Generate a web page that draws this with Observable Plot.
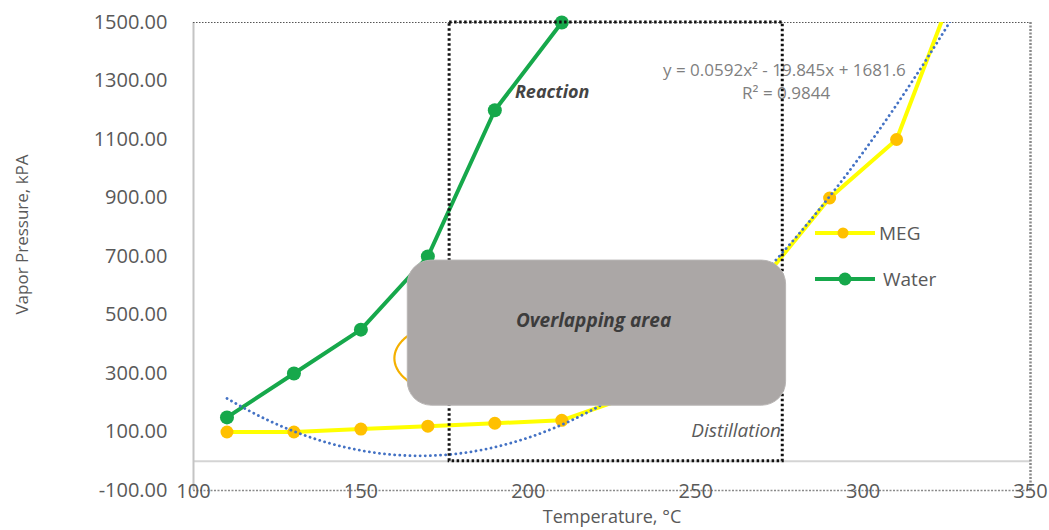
<!DOCTYPE html>
<html>
<head>
<meta charset="utf-8">
<script src="https://cdn.jsdelivr.net/npm/d3@7"></script>
<script src="https://cdn.jsdelivr.net/npm/@observablehq/plot@0.6"></script>
<style>
  html, body { margin: 0; padding: 0; background: #fff; }
  #wrap { position: relative; width: 1049px; height: 530px; font-family: 'Open Sans', sans-serif; }
  #legend { position: absolute; left: 812px; top: 218px; }
  .lg { position: absolute; white-space: nowrap; color: #595959; font-size: 19px; }
</style>
</head>
<body>
<div id="wrap"></div>
<script>
// ---- data ----
const megTemps = [110, 130, 150, 170, 190, 210, 230, 250, 270, 290, 310, 330];
const megPressure = [100, 100, 110, 120, 130, 140, 220, 400, 620, 900, 1100, 1700];
const waterTemps = [110, 130, 150, 170, 190, 210];
const waterPressure = [150, 300, 450, 700, 1200, 1500];
// polynomial trendline of MEG (as printed on the chart)
const trendA = 0.0592, trendB = -19.845, trendC = 1681.6;
const trendLabel = ["y = 0.0592x\u00B2 - 19.845x + 1681.6", "R\u00B2 = 0.9844"];
const xTicks = [100, 150, 200, 250, 300, 350];
const yTicks = [-100, 100, 300, 500, 700, 900, 1100, 1300, 1500];
// zones (temperature range, pressure range)
const regionTemps = [176.5, 276];      // dotted rectangle
const regionPress = [0, 1500];
const overlapTemps = [164, 277];        // grey rounded box
const overlapPress = [190, 686];
const zoneLabels = [
  {t: 196, p: 1262, text: "Reaction"},
  {t: 275.5, p: 105, text: "Distillation"}
];
const overlapLabel = {t: 219.5, p: 481, text: "Overlapping area"};
// orange highlight ellipse (mostly hidden under the grey box)
const ellipseCenter = [179, 352], ellipseRadius = [19, 125];

const megData = megTemps.map((t, i) => ({t, p: megPressure[i]}));
const waterData = waterTemps.map((t, i) => ({t, p: waterPressure[i]}));
const trendData = d3.range(110, 330.01, 1).map(t => ({t, p: trendA * t * t + trendB * t + trendC}));
const ellipseData = d3.range(0, 361, 4).map(a => ({
  t: ellipseCenter[0] + ellipseRadius[0] * Math.cos(a * Math.PI / 180),
  p: ellipseCenter[1] + ellipseRadius[1] * Math.sin(a * Math.PI / 180)
}));

const GREEN = "#16a84b", YELLOW = "#ffff00", ORANGE = "#ffc000", BLUE = "#4472c4";

const chart = Plot.plot({
  width: 1049, height: 530,
  marginLeft: 193, marginRight: 19, marginTop: 22, marginBottom: 40,
  x: {domain: [100, 350]},
  y: {domain: [-100, 1500]},
  style: {fontFamily: "'Open Sans', sans-serif", background: "#fff", overflow: "visible"},
  marks: [
    Plot.ruleY([0], {stroke: "#d4d4d4", strokeWidth: 2}),
    Plot.ruleX([100], {stroke: "#c4c4c4", strokeWidth: 2}),
    Plot.ruleY([1500], {stroke: "#555", strokeWidth: 1.2, strokeDasharray: "1.5,1.5"}),
    Plot.ruleX([350], {stroke: "#8a8a8a", strokeWidth: 2.5, strokeDasharray: "2,1.5"}),
    Plot.ruleY([-100], {stroke: "#8a8a8a", strokeWidth: 1.6, strokeDasharray: "2,1.5"}),
    Plot.axisY({ticks: yTicks, tickSize: 0, tickPadding: 26, tickFormat: d => d.toFixed(2),
      fontSize: 20, fill: "#595959", label: null}),
    Plot.axisX({ticks: xTicks, tickSize: 0, tickPadding: -7, tickFormat: d => String(d),
      fontSize: 20, fill: "#595959", label: null}),
    Plot.text(["Temperature, \u00B0C"], {frameAnchor: "bottom", lineAnchor: "middle", dy: 27, fontSize: 18, fill: "#595959"}),
    Plot.text(["Vapor Pressure, kPA"], {frameAnchor: "left", textAnchor: "middle", lineAnchor: "middle", rotate: -90, dx: -171, dy: -22, fontSize: 17, fill: "#595959"}),
    // series
    Plot.line(waterData, {x: "t", y: "p", stroke: GREEN, strokeWidth: 4}),
    Plot.dot(waterData, {x: "t", y: "p", r: 7, fill: GREEN}),
    Plot.line(megData, {x: "t", y: "p", stroke: YELLOW, strokeWidth: 4, clip: true}),
    Plot.dot(megData, {x: "t", y: "p", r: 6.5, fill: ORANGE, clip: true}),
    Plot.line(trendData, {x: "t", y: "p", stroke: BLUE, strokeWidth: 2.8, strokeDasharray: "0.1,5", strokeLinecap: "round", clip: true}),
    // trendline label
    Plot.text([trendLabel[0]], {x: () => 276.5, y: () => 1336, fontSize: 17, fill: "#7f7f7f"}),
    Plot.text([trendLabel[1]], {x: () => 277, y: () => 1257, fontSize: 17, fill: "#7f7f7f"}),
    // zones
    Plot.text(zoneLabels.slice(0, 1), {x: "t", y: "p", text: "text", textAnchor: "start", fontSize: 18,
      fontWeight: "bold", fontStyle: "italic", fill: "#444"}),
    Plot.rect([{x1: regionTemps[0], x2: regionTemps[1], y1: regionPress[0], y2: regionPress[1]}],
      {x1: "x1", x2: "x2", y1: "y1", y2: "y2", fill: "none", stroke: "#111", strokeWidth: 3, strokeDasharray: "2.5,2.5"}),
    Plot.line(ellipseData, {x: "t", y: "p", stroke: "#f4b000", strokeWidth: 2.2}),
    Plot.rect([{x1: overlapTemps[0], x2: overlapTemps[1], y1: overlapPress[0], y2: overlapPress[1]}],
      {x1: "x1", x2: "x2", y1: "y1", y2: "y2", fill: "#aba7a6", stroke: "#b8b5b4", strokeWidth: 1, rx: 24}),
    Plot.text([overlapLabel], {x: "t", y: "p", text: "text", fontSize: 19, fontWeight: "bold", fontStyle: "italic", fill: "#3c3c3c"}),
    Plot.text(zoneLabels.slice(1), {x: "t", y: "p", text: "text", textAnchor: "end", fontSize: 19,
      fontStyle: "italic", fill: "#5a5a5a"})
  ]
});

const wrap = document.getElementById("wrap");
wrap.appendChild(chart);

// legend
const legendItems = [
  {name: "MEG", line: YELLOW, marker: ORANGE, r: 5.5},
  {name: "Water", line: GREEN, marker: GREEN, r: 6.5}
];
const legend = document.createElement("div");
legend.id = "legend";
legendItems.forEach((d, i) => {
  const row = document.createElement("div");
  row.className = "lg";
  row.style.top = (i * 46) + "px";
  row.style.left = "0px";
  row.style.display = "flex";
  row.style.alignItems = "center";
  row.style.height = "30px";
  row.innerHTML = `<svg width="64" height="30" style="margin-right:${i ? 7 : 3}px"><line x1="3" x2="63" y1="15" y2="15" stroke="${d.line}" stroke-width="4"/><circle cx="${i ? 33 : 31}" cy="15" r="${d.r}" fill="${d.marker}"/></svg><span>${d.name}</span>`;
  legend.appendChild(row);
});
wrap.appendChild(legend);
</script>
</body>
</html>
